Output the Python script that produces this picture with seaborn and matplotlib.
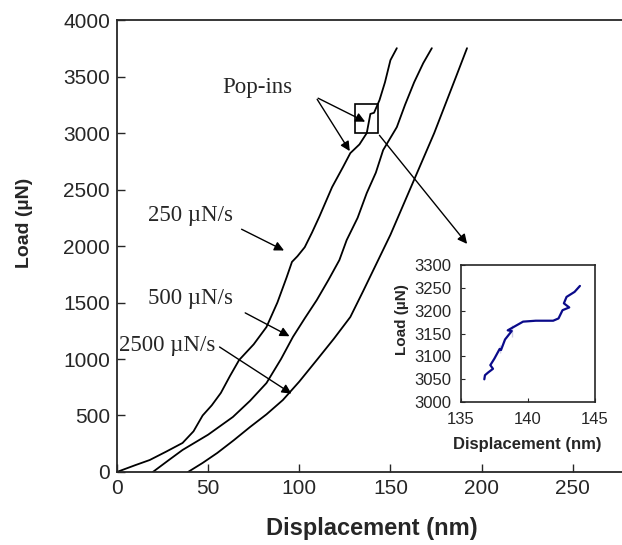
import matplotlib
matplotlib.use("Agg")
import matplotlib.pyplot as plt
import seaborn as sns
import pandas as pd

# ---- data ----
disp_250 = [0, 10, 18, 27, 36, 42, 47, 52, 57, 62, 67, 75, 82, 88, 93, 96, 99, 103, 107, 111,
            118, 124, 128, 133, 137, 139, 141, 144, 147, 150, 153.5]
load_250 = [0, 60, 106, 180, 257, 360, 500, 590, 700, 850, 991, 1130, 1283, 1500, 1720, 1860,
            1910, 1990, 2120, 2260, 2522, 2700, 2823, 2900, 3000, 3170, 3180, 3292, 3450, 3646,
            3752]

disp_500 = [19.7, 28, 36, 50, 63.6, 73, 82, 90, 96.5, 103, 109.6, 116, 122, 126, 132, 137, 142,
            146, 153.5, 158, 163, 168, 172.7]
load_500 = [0, 100, 195, 330, 487, 630, 787, 1000, 1195, 1360, 1522, 1700, 1876, 2053, 2250,
            2469, 2650, 2850, 3053, 3250, 3450, 3620, 3752]

disp_2500 = [39, 47, 55, 64, 73, 82, 91, 100, 109.6, 119, 128, 135, 142.5, 150, 158, 166, 174,
             180, 186, 192]
load_2500 = [0, 80, 168, 280, 398, 510, 637, 800, 991, 1180, 1372, 1600, 1850, 2100, 2400, 2700,
             3000, 3250, 3500, 3752]

inset_disp = [136.75, 136.8, 137.04, 137.4, 137.2, 137.5, 137.9, 138.0, 137.9, 138.3, 138.8,
              138.5, 138.8, 139.65, 140.6, 141.9, 142.3, 142.6, 143.1, 142.7, 142.9, 143.5, 143.9]
inset_load = [3050, 3059, 3065, 3073, 3081, 3095, 3108, 3114, 3125, 3137, 3143, 3157, 3168, 3176,
              3178, 3178, 3183, 3201, 3207, 3216, 3230, 3241, 3254]

main_xticks = [0, 50, 100, 150, 200, 250]
main_yticks = [0, 500, 1000, 1500, 2000, 2500, 3000, 3500, 4000]
inset_xticks = [135, 140, 145]
inset_yticks = [3000, 3050, 3100, 3150, 3200, 3250, 3300]

sns.set_style("ticks")
plt.rcParams['font.family'] = ['Liberation Sans', 'DejaVu Sans']

fig = plt.figure(figsize=(6.22, 5.45), dpi=100)
ax = fig.add_axes([0.188, 0.134, 0.812, 0.829])

for xs, ys in [(disp_250, load_250), (disp_500, load_500), (disp_2500, load_2500)]:
    df = pd.DataFrame({"x": xs, "y": ys})
    sns.lineplot(data=df, x="x", y="y", sort=False, color="black", lw=1.3, ax=ax)

ax.set_xlim(0, 277)
ax.set_ylim(0, 4000)
ax.set_xticks(main_xticks)
ax.set_yticks(main_yticks)
ax.tick_params(direction="in", length=6, width=1, labelsize=15, pad=5)
for s in ["left", "bottom", "top"]:
    ax.spines[s].set_linewidth(1.3)
ax.spines["right"].set_visible(False)
ax.set_xlabel("Displacement (nm)", fontsize=17, fontweight="bold")
ax.set_ylabel("Load (\u00b5N)", fontsize=14, fontweight="bold")
ax.xaxis.set_label_coords(0.505, -0.1)
ax.yaxis.set_label_coords(-0.166, 0.551)

serif = ['Liberation Serif', 'DejaVu Serif']
arrow = dict(arrowstyle="-|>", color="black", lw=1, mutation_scale=14)

# pop-in box
ax.add_patch(plt.Rectangle((130.5, 3000), 12.5, 260, fill=False, lw=1.2, ec="black"))
ax.text(58, 3400, "Pop-ins", fontsize=16.5, family=serif, va="center")
ax.annotate("", xy=(137.5, 3090), xytext=(109, 3320), arrowprops=arrow)
ax.annotate("", xy=(128.5, 2820), xytext=(109, 3320), arrowprops=arrow)
ax.annotate("", xy=(193, 2000), xytext=(143, 3000), arrowprops=arrow)

ax.text(17, 2270, "250 \u00b5N/s", fontsize=16.5, family=serif, va="center")
ax.annotate("", xy=(93, 1950), xytext=(67, 2160), arrowprops=arrow)
ax.text(17, 1540, "500 \u00b5N/s", fontsize=16.5, family=serif, va="center")
ax.annotate("", xy=(96, 1190), xytext=(69, 1420), arrowprops=arrow)
ax.text(1, 1124, "2500 \u00b5N/s", fontsize=16.5, family=serif, va="center")
ax.annotate("", xy=(97, 680), xytext=(55, 1120), arrowprops=arrow)

# inset
ins = fig.add_axes([0.741, 0.262, 0.215, 0.252])
dfi = pd.DataFrame({"x": inset_disp, "y": inset_load})
sns.lineplot(data=dfi, x="x", y="y", sort=False, color="#0a0a8a", lw=1.6, ax=ins)
ins.set_xlim(135, 145)
ins.set_ylim(3000, 3300)
ins.set_xticks(inset_xticks)
ins.set_yticks(inset_yticks)
ins.tick_params(direction="in", length=3, labelsize=12, pad=7)
for s in ins.spines.values():
    s.set_linewidth(1.2)
ins.set_xlabel("Displacement (nm)", fontsize=12, fontweight="bold")
ins.set_ylabel("Load (\u00b5N)", fontsize=11, fontweight="bold")
ins.xaxis.set_label_coords(0.496, -0.25)
ins.yaxis.set_label_coords(-0.39, 0.6)

fig.savefig("out.png", dpi=100)
